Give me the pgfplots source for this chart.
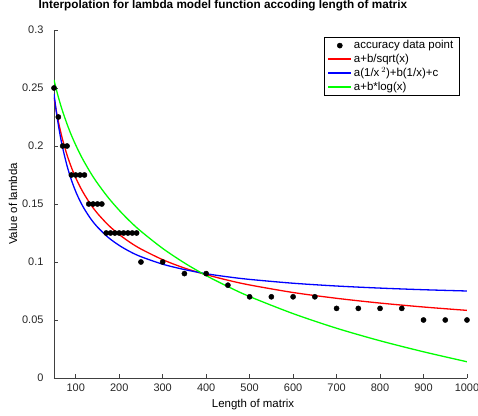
\documentclass[border=0pt]{standalone}
\usepackage{pgfplots}
\pgfplotsset{compat=1.18}
\usepackage{fontspec}
\setmainfont{Liberation Sans}
\begin{document}
\begin{tikzpicture}
\begin{axis}[
  at={(0,0)}, anchor=south west,
  width=413bp, height=348bp, scale only axis,
  xmin=50, xmax=1000, ymin=0, ymax=0.3,
  axis lines*=left,
  axis line style={black!75, line width=0.6bp},
  tick align=inside,
  major tick length=4bp,
  tick style={black!75, line width=0.6bp},
  xtick={100,200,300,400,500,600,700,800,900,1000},
  ytick={0,0.05,0.1,0.15,0.2,0.25,0.3},
  yticklabels={0,0.05,0.1,0.15,0.2,0.25,0.3},
  /pgf/number format/assume math mode=true,
  /pgf/number format/1000 sep={},
  tick label style={font=\fontsize{11}{13}\selectfont, text=black!85},
  yticklabel style={xshift=-7bp},
  xticklabel style={yshift=-2bp},
  xlabel={Length of matrix},
  ylabel={Value of lambda},
  label style={font=\fontsize{11.5}{13}\selectfont},
  xlabel style={at={(axis description cs:0.482,-0.0776)}, anchor=center},
  ylabel style={at={(axis description cs:-0.0993,0.5)}, anchor=center},
  title={Interpolation for lambda model function accoding length of matrix},
  title style={at={(axis description cs:0.409,1.045)}, anchor=base, font=\bfseries\fontsize{11.8}{13}\selectfont},
  legend style={at={(axis cs:1000,0.3)}, anchor=north east, xshift=-8bp, yshift=-7bp,
    font=\fontsize{11.5}{13}\selectfont,
    inner xsep=3.5bp, inner ysep=1.5bp, row sep=-0.4bp, legend cell align=left},
  legend image code/.code={\draw[mark repeat=2,mark phase=2,#1] plot coordinates {(0bp,0bp) (11.5bp,0bp) (23bp,0bp)};},
]
\addplot[only marks, mark=*, mark size=2.6bp, black] coordinates {
(50,0.25) (60,0.225) (70,0.2) (80,0.2)
(90,0.175) (100,0.175) (110,0.175) (120,0.175)
(130,0.15) (140,0.15) (150,0.15) (160,0.15)
(170,0.125) (180,0.125) (190,0.125) (200,0.125) (210,0.125) (220,0.125) (230,0.125) (240,0.125)
(250,0.1) (300,0.1) (350,0.09) (400,0.09) (450,0.08)
(500,0.07) (550,0.07) (600,0.07) (650,0.07)
(700,0.06) (750,0.06) (800,0.06) (850,0.06)
(900,0.05) (950,0.05) (1000,0.05)
};
\addlegendentry{accuracy data point}
\addplot[draw=red, line width=1.3bp, smooth] coordinates {
(50,0.2418) (55,0.2308) (60,0.2212) (65,0.2128) (70,0.2052) (80,0.1923) (90,0.1816) (100,0.1726)
(110,0.1648) (120,0.1581) (135,0.1493) (150,0.1419) (175,0.1318) (200,0.1237) (225,0.1169)
(250,0.1112) (300,0.1020) (350,0.0948) (400,0.0891) (450,0.0843) (500,0.0802) (600,0.0737)
(700,0.0687) (800,0.0646) (900,0.0612) (1000,0.0583)
};
\addlegendentry{a+b/sqrt(x)}
\addplot[draw=blue, line width=1.3bp, smooth] coordinates {
(50,0.2450) (55,0.2305) (60,0.2182) (65,0.2075) (70,0.1983) (80,0.1829) (90,0.1707) (100,0.1607)
(110,0.1525) (120,0.1456) (135,0.1370) (150,0.1301) (175,0.1211) (200,0.1143) (225,0.1089)
(250,0.1046) (300,0.0981) (350,0.0935) (400,0.0899) (450,0.0872) (500,0.0850) (600,0.0817)
(700,0.0793) (800,0.0775) (900,0.0761) (1000,0.0750)
};
\addlegendentry{a(1/x\,$^{2}$)+b(1/x)+c}
\addplot[draw=green, line width=1.3bp, smooth] coordinates {
(50,0.2570) (55,0.2493) (60,0.2422) (65,0.2357) (70,0.2297) (80,0.2189) (90,0.2093) (100,0.2008)
(110,0.1930) (120,0.1860) (135,0.1764) (150,0.1679) (175,0.1554) (200,0.1446) (225,0.1350)
(250,0.1265) (300,0.1117) (350,0.0992) (400,0.0883) (450,0.0788) (500,0.0702) (600,0.0555)
(700,0.0429) (800,0.0321) (900,0.0226) (1000,0.0140)
};
\addlegendentry{a+b*log(x)}
\end{axis}
\pgfresetboundingbox
\useasboundingbox (-54bp,-38bp) rectangle (424bp,378bp);
\end{tikzpicture}
\end{document}
